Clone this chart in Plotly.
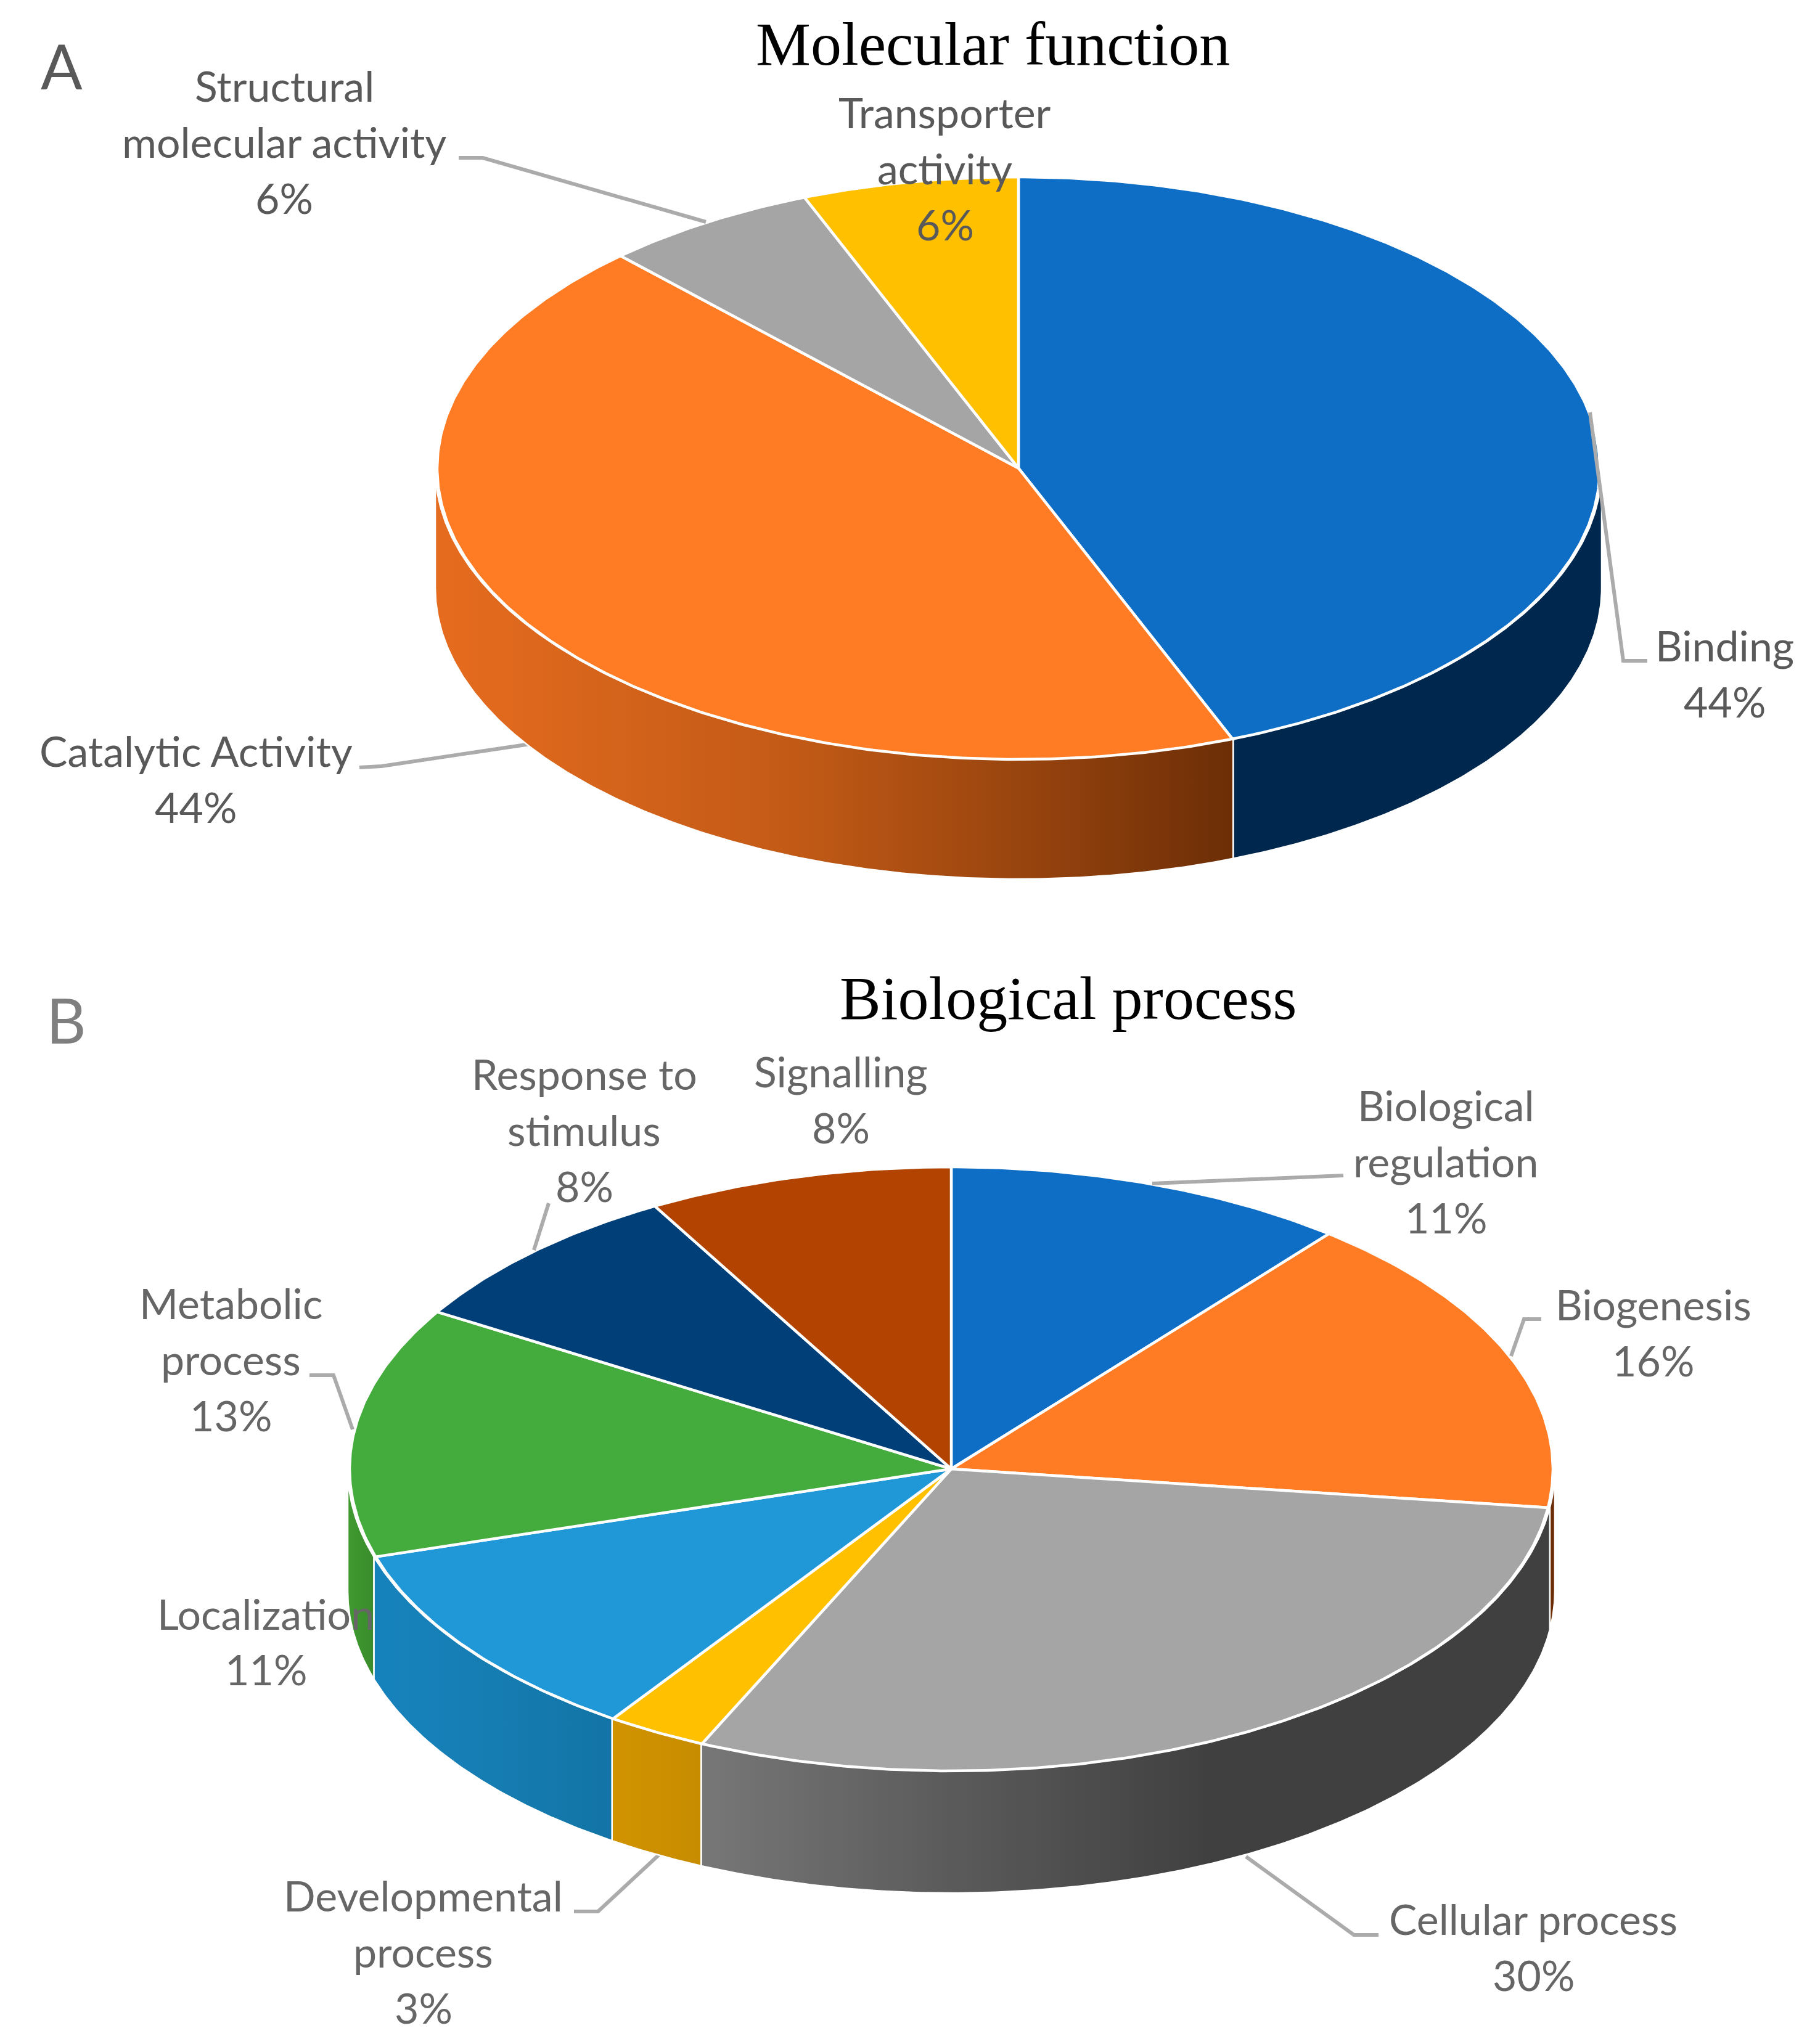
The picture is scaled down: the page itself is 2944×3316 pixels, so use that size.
import numpy as np
import plotly.graph_objects as go

# ---------- data ----------
mf_categories = ["Binding", "Catalytic Activity", "Structural molecular activity", "Transporter activity"]
mf_values = [44, 44, 6, 6]
mf_labels = ["44%", "44%", "6%", "6%"]

bp_categories = ["Biological regulation", "Biogenesis", "Cellular process", "Developmental process",
                 "Localization", "Metabolic process", "Response to stimulus", "Signalling"]
bp_values = [10.8, 16.25, 29.75, 2.7, 10.8, 13.4, 8.1, 8.2]
bp_labels = ["11%", "16%", "30%", "3%", "11%", "13%", "8%", "8%"]

# ---------- styles ----------
W, H = 2944, 3316
mf_top = ["#0E6EC5", "#FF7C24", "#A5A5A5", "#FFC000"]
mf_wall = [
    [[0, "#00274D"], [1, "#00274D"]],
    [[0, "#E66C1F"], [0.45, "#C25A16"], [0.75, "#96430E"], [1, "#6C2E06"]],
    [[0, "#666666"], [1, "#666666"]],
    [[0, "#CC9900"], [1, "#CC9900"]],
]
bp_top = ["#0E6EC5", "#FF7C24", "#A5A5A5", "#FFC000", "#2098D8", "#43AC3C", "#003F77", "#B24300"]
bp_wall = [
    [[0, "#002850"], [1, "#002850"]],
    [[0, "#6C2E06"], [1, "#6C2E06"]],
    [[0, "#777777"], [0.3, "#5A5A5A"], [0.6, "#404040"], [1, "#404040"]],
    [[0, "#D19300"], [1, "#C78C00"]],
    [[0, "#1682BC"], [0.5, "#167DB2"], [1, "#1274A6"]],
    [[0, "#3F9A30"], [1, "#3A8C2C"]],
    [[0, "#002850"], [1, "#002850"]],
    [[0, "#6C2E06"], [1, "#6C2E06"]],
]
MF_GEOM = dict(cx=1652, cy=759.5, rx=943, ry=472.5, depth=194)
BP_GEOM = dict(cx=1543, cy=2383, rx=976, ry=490, depth=198)
WALL_OVERHANG = 3
LEADER = "#ABABAB"
TXT_A = "#595959"
TXT_B = "#666666"
SANS = "Lato"
LABEL_SIZE = 68
K = 0.9985
LABEL_DY = -3


def arc(g, a0, a1, dy=0, grow=0):
    a = np.radians(np.linspace(a0, a1, max(int(abs(a1 - a0) * 2), 2)))
    return g["cx"] + (g["rx"] + grow) * np.sin(a), g["cy"] + dy - g["ry"] * np.cos(a)


def add_pie(fig, g, values, tops, walls):
    edges = np.cumsum([0] + list(values)) / sum(values) * 360
    # walls first: only the front half of the disc has a visible side
    for i in range(len(values)):
        a0, a1 = max(edges[i], 90), min(edges[i + 1], 270)
        if a1 <= a0:
            continue
        xt, yt = arc(g, a0, a1, 0, WALL_OVERHANG)
        xb, yb = arc(g, a1, a0, g["depth"], WALL_OVERHANG)
        fig.add_trace(go.Scatter(
            x=np.r_[xt, xb, xt[0]], y=np.r_[yt, yb, yt[0]], mode="lines", fill="toself",
            line=dict(color="white", width=2.5),
            fillgradient=dict(type="horizontal", colorscale=walls[i]),
            hoverinfo="skip"))
    # top face
    for i in range(len(values)):
        x, y = arc(g, edges[i], edges[i + 1])
        fig.add_trace(go.Scatter(
            x=np.r_[g["cx"], x, g["cx"]], y=np.r_[g["cy"], y, g["cy"]], mode="lines", fill="toself",
            fillcolor=tops[i], line=dict(color="white", width=4.5), hoverinfo="skip"))


def leader(fig, pts):
    fig.add_trace(go.Scatter(x=[p[0] for p in pts], y=[p[1] for p in pts], mode="lines",
                             line=dict(color=LEADER, width=6), hoverinfo="skip"))


fig = go.Figure()

# leader lines that run behind the discs
leader(fig, [(583, 1245), (619, 1243), (860, 1207)])   # Catalytic Activity
leader(fig, [(2021, 3012), (2196, 3139), (2236, 3139)])  # Cellular process
leader(fig, [(931, 3101), (970, 3101), (1070, 3008)])   # Developmental process

add_pie(fig, MF_GEOM, mf_values, mf_top, mf_wall)
add_pie(fig, BP_GEOM, bp_values, bp_top, bp_wall)

# leader lines on top
leader(fig, [(744, 256), (783, 256), (1145, 360)])      # Structural
leader(fig, [(2579, 669), (2633, 1072), (2672, 1072)])  # Binding
leader(fig, [(1869, 1920), (2147, 1907), (2179, 1907)])  # Biological regulation
leader(fig, [(2451, 2200), (2472, 2140), (2500, 2140)])  # Biogenesis
leader(fig, [(502, 2231), (541, 2231), (572, 2319)])    # Metabolic
leader(fig, [(890, 1952), (866, 2028)])                 # Response

def text(s, x, y, size=LABEL_SIZE, color=TXT_A, family=SANS, dy=0):
    fig.add_annotation(x=x * K, y=y * K + dy, text=s, showarrow=False, xanchor="center", yanchor="middle",
                       font=dict(family=family, size=size, color=color))

def label(lines, x, ys, color):
    for s, y in zip(lines, ys):
        text(s, x, y, color=color, dy=LABEL_DY)

label(["Structural", "molecular activity", mf_labels[2]], 462, [142, 233, 324], TXT_A)
label(["Transporter", "activity", mf_labels[3]], 1535, [185, 276, 367], TXT_A)
label(["Binding", mf_labels[0]], 2802, [1051, 1142], TXT_A)
label(["Catalytic Activity", mf_labels[1]], 318, [1222, 1313], TXT_A)

label(["Biological", "regulation", bp_labels[0]], 2349, [1798, 1889, 1980], TXT_B)
label(["Biogenesis", bp_labels[1]], 2686, [2122, 2213], TXT_B)
label(["Cellular process", bp_labels[2]], 2491, [3120, 3211], TXT_B)
label(["Developmental", "process", bp_labels[3]], 688, [3082, 3173, 3264], TXT_B)
label(["Localization", bp_labels[4]], 432, [2624, 2715], TXT_B)
label(["Metabolic", "process", bp_labels[5]], 375, [2120, 2211, 2302], TXT_B)
label(["Response to", "stimulus", bp_labels[6]], 949, [1747, 1838, 1929], TXT_B)
label(["Signalling", bp_labels[7]], 1366, [1743, 1834], TXT_B)

text("Molecular function", 1613, 72, size=100, color="#000000", family="Liberation Serif")
text("Biological process", 1736, 1622, size=100, color="#000000", family="Liberation Serif")
text("A", 100, 106, size=100, color="#595959")
text("B", 108, 1656, size=100, color="#7F7F7F")

fig.update_layout(
    width=W, height=H, margin=dict(l=0, r=0, t=0, b=0), showlegend=False,
    paper_bgcolor="white", plot_bgcolor="white",
    xaxis=dict(range=[0, W], visible=False, fixedrange=True),
    yaxis=dict(range=[H, 0], visible=False, fixedrange=True),
)
fig.write_html("out.html", config=dict(displayModeBar=False),
               post_script="document.body.style.margin='0';")
